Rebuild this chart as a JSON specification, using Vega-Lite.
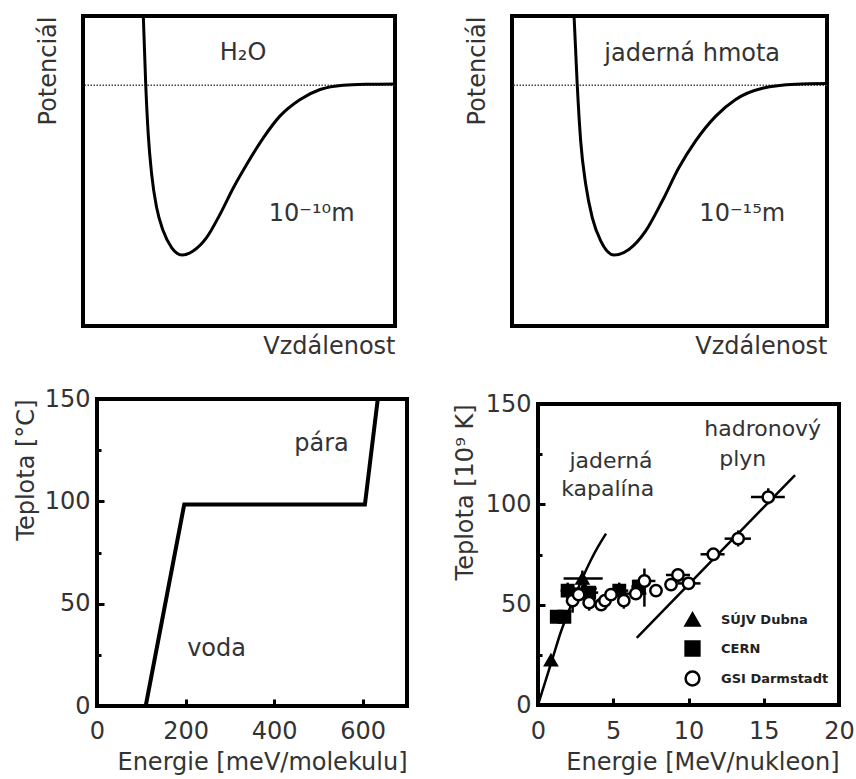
{
  "$schema": "https://vega.github.io/schema/vega-lite/v6.json",
  "background": "white",
  "padding": {"left": 12, "top": 13, "right": 0, "bottom": 0},
  "spacing": 25,
  "resolve": {"scale": {"shape": "independent", "fill": "independent", "stroke": "independent"}, "legend": {"shape": "independent", "fill": "independent", "stroke": "independent"}},
  "config": {
    "view": {"stroke": "black", "strokeWidth": 4},
    "font": "DejaVu Sans",
    "axis": {"domain": false, "grid": false, "minExtent": 0, "labelFont": "DejaVu Sans", "labelFontSize": 24, "labelColor": "#333", "titleFont": "DejaVu Sans", "titleFontSize": 24, "titleFontWeight": "normal", "titleColor": "#333", "titleAnchor": "end", "tickColor": "black", "tickWidth": 3, "labelFlush": false},
    "text": {"font": "DejaVu Sans", "fontSize": 24, "color": "#333"}
  },
  "vconcat": [
    {
      "spacing": 64,
      "hconcat": [
        {
          "width": 312, "height": 310,
          "layer": [
            {
              "data": {"values": [{"y": 77.7}]},
              "mark": {"type": "rule", "strokeDash": [1.5, 1.5], "strokeWidth": 1.5, "color": "#444"},
              "encoding": {"y": {"field": "y", "type": "quantitative", "title": "Potenciál"}}
            },
            {
              "data": {"values": [
                {"x": 19.0, "y": 108}, {"x": 19.33, "y": 100}, {"x": 20.1, "y": 78}, {"x": 20.9, "y": 62}, {"x": 22.0, "y": 49},
                {"x": 23.6, "y": 38.2}, {"x": 25.7, "y": 30.7}, {"x": 28.4, "y": 25.3}, {"x": 31.8, "y": 22.9}, {"x": 35.3, "y": 24.2},
                {"x": 39.6, "y": 28.5}, {"x": 43.9, "y": 36.0}, {"x": 48.2, "y": 44.6}, {"x": 52.5, "y": 52.2}, {"x": 57.8, "y": 60.7},
                {"x": 63.1, "y": 67.7}, {"x": 69.6, "y": 73.1}, {"x": 76.0, "y": 76.3}, {"x": 83.4, "y": 77.7}, {"x": 90.9, "y": 78.0},
                {"x": 100, "y": 78.1}
              ]},
              "mark": {"type": "line", "clip": true, "strokeWidth": 3, "color": "black", "interpolate": "monotone"},
              "encoding": {
                "x": {"field": "x", "type": "quantitative", "scale": {"domain": [0, 100], "nice": false, "zero": false},
                      "axis": {"title": "Vzdálenost", "ticks": false, "labels": false, "titlePadding": 8}},
                "y": {"field": "y", "type": "quantitative", "scale": {"domain": [0, 100], "nice": false},
                      "axis": {"title": "Potenciál", "labels": false, "ticks": false, "titlePadding": 23}}
              }
            },
            {
              "data": {"values": [{"x": 51.3, "y": 88.1, "label": "H₂O"}, {"x": 73.3, "y": 36.0, "label": "10⁻¹⁰m"}]},
              "mark": {"type": "text", "fontSize": 24},
              "encoding": {
                "x": {"field": "x", "type": "quantitative", "title": "Vzdálenost"},
                "y": {"field": "y", "type": "quantitative", "title": "Potenciál"},
                "text": {"field": "label"}
              }
            }
          ]
        },
        {
          "width": 315, "height": 310,
          "layer": [
            {
              "data": {"values": [{"y": 77.7}]},
              "mark": {"type": "rule", "strokeDash": [1.5, 1.5], "strokeWidth": 1.5, "color": "#444"},
              "encoding": {"y": {"field": "y", "type": "quantitative", "title": "Potenciál"}}
            },
            {
              "data": {"values": [
                {"x": 19.4, "y": 108}, {"x": 19.7, "y": 100}, {"x": 20.7, "y": 78}, {"x": 21.8, "y": 59.7}, {"x": 23.4, "y": 45.7},
                {"x": 25.5, "y": 34.9}, {"x": 28.2, "y": 27.4}, {"x": 32.4, "y": 22.9}, {"x": 37.1, "y": 24.7}, {"x": 42.4, "y": 30.6},
                {"x": 47.7, "y": 40.3}, {"x": 53.0, "y": 51.1}, {"x": 58.3, "y": 59.7}, {"x": 64.7, "y": 67.7}, {"x": 71.0, "y": 73.1},
                {"x": 79.5, "y": 76.7}, {"x": 90.1, "y": 78.0}, {"x": 100, "y": 78.2}
              ]},
              "mark": {"type": "line", "clip": true, "strokeWidth": 3, "color": "black", "interpolate": "monotone"},
              "encoding": {
                "x": {"field": "x", "type": "quantitative", "scale": {"domain": [0, 100], "nice": false, "zero": false},
                      "axis": {"title": "Vzdálenost", "ticks": false, "labels": false, "titlePadding": 8}},
                "y": {"field": "y", "type": "quantitative", "scale": {"domain": [0, 100], "nice": false},
                      "axis": {"title": "Potenciál", "labels": false, "ticks": false, "titlePadding": 23}}
              }
            },
            {
              "data": {"values": [{"x": 57.2, "y": 87.6, "label": "jaderná hmota"}, {"x": 73.1, "y": 36.0, "label": "10⁻¹⁵m"}]},
              "mark": {"type": "text", "fontSize": 24},
              "encoding": {
                "x": {"field": "x", "type": "quantitative", "title": "Vzdálenost"},
                "y": {"field": "y", "type": "quantitative", "title": "Potenciál"},
                "text": {"field": "label"}
              }
            }
          ]
        }
      ]
    },
    {
      "spacing": -72,
      "resolve": {"scale": {"shape": "independent", "fill": "independent", "stroke": "independent"}, "legend": {"shape": "independent", "fill": "independent", "stroke": "independent"}},
      "hconcat": [
        {
          "width": 1, "height": 1,
          "view": {"stroke": null},
          "data": {"values": []},
          "mark": "point",
          "encoding": {}
        },
        {
          "spacing": 42,
          "resolve": {"scale": {"shape": "independent", "fill": "independent", "stroke": "independent"}, "legend": {"shape": "independent", "fill": "independent", "stroke": "independent"}},
          "hconcat": [
            {
              "width": 310, "height": 307,
              "layer": [
                {
                  "data": {"values": [{"E": 110, "T": 0}, {"E": 197, "T": 98.5}, {"E": 605, "T": 98.5}, {"E": 634, "T": 150}]},
                  "mark": {"type": "line", "strokeWidth": 4, "color": "black", "clip": true},
                  "encoding": {
                    "x": {"field": "E", "type": "quantitative", "scale": {"domain": [0, 700], "nice": false},
                          "axis": {"title": "Energie [meV/molekulu]", "values": [0, 200, 400, 600], "tickSize": -7, "labelPadding": 20, "titlePadding": 7}},
                    "y": {"field": "T", "type": "quantitative", "scale": {"domain": [0, 150], "nice": false},
                          "axis": {"title": "Teplota [°C]", "values": [0, 25, 50, 75, 100, 125, 150],
                                   "labelExpr": "datum.value % 50 === 0 ? datum.label : ''",
                                   "tickSize": {"condition": {"test": "datum.value % 50 === 0", "value": -7}, "value": -4},
                                   "labelPadding": 14, "titlePadding": 6}}
                  }
                },
                {
                  "data": {"values": [{"E": 270, "T": 27.9, "label": "voda"}, {"E": 507, "T": 127.9, "label": "pára"}]},
                  "mark": {"type": "text", "fontSize": 24},
                  "encoding": {
                    "x": {"field": "E", "type": "quantitative", "title": "Energie [meV/molekulu]"},
                    "y": {"field": "T", "type": "quantitative", "title": "Teplota [°C]"},
                    "text": {"field": "label"}
                  }
                }
              ]
            },
            {
              "spacing": -10,
              "resolve": {"scale": {"shape": "independent", "fill": "independent", "stroke": "independent"}, "legend": {"shape": "independent", "fill": "independent", "stroke": "independent"}},
              "vconcat": [
                {
                  "width": 1, "height": 1,
                  "view": {"stroke": null},
                  "data": {"values": []},
                  "mark": "point",
                  "encoding": {}
                },
                {
                  "width": 301, "height": 301,
                  "layer": [
                    {
                      "data": {"values": [
                        {"E": 0, "T": 0}, {"E": 0.5, "T": 12}, {"E": 1.0, "T": 24}, {"E": 1.5, "T": 36}, {"E": 2.0, "T": 46},
                        {"E": 2.5, "T": 55}, {"E": 3.0, "T": 64}, {"E": 3.5, "T": 72}, {"E": 4.0, "T": 79}, {"E": 4.52, "T": 85.4}
                      ]},
                      "mark": {"type": "line", "strokeWidth": 2.5, "color": "black", "interpolate": "monotone"},
                      "encoding": {
                        "x": {"field": "E", "type": "quantitative", "scale": {"domain": [0, 20], "nice": false},
                              "axis": {"title": "Energie [MeV/nukleon]", "values": [0, 2.5, 5, 7.5, 10, 12.5, 15, 17.5, 20],
                                       "labelExpr": "datum.value % 5 === 0 ? datum.label : ''",
                                       "tickSize": {"condition": {"test": "datum.value % 5 === 0", "value": -7}, "value": -4},
                                       "labelPadding": 21, "titlePadding": 7}},
                        "y": {"field": "T", "type": "quantitative", "scale": {"domain": [0, 150], "nice": false},
                              "axis": {"title": "Teplota [10⁹ K]", "values": [0, 25, 50, 75, 100, 125, 150],
                                       "labelExpr": "datum.value % 50 === 0 ? datum.label : ''",
                                       "tickSize": {"condition": {"test": "datum.value % 50 === 0", "value": -7}, "value": -4},
                                       "labelPadding": 14, "titlePadding": 8}}
                      }
                    },
                    {
                      "data": {"values": [{"E": 6.56, "T": 33.5}, {"E": 17.08, "T": 114.6}]},
                      "mark": {"type": "line", "strokeWidth": 2.5, "color": "black"},
                      "encoding": {
                        "x": {"field": "E", "type": "quantitative", "title": "Energie [MeV/nukleon]"},
                        "y": {"field": "T", "type": "quantitative", "title": "Teplota [10⁹ K]"}
                      }
                    },
                    {
                      "data": {"name": "pts", "values": [
                        {"src": "SÚJV Dubna", "E": 0.86, "T": 22.3},
                        {"src": "CERN", "E": 1.25, "T": 44},
                        {"src": "CERN", "E": 1.75, "T": 44},
                        {"src": "CERN", "E": 1.97, "T": 57, "E1": 1.5, "E2": 2.5, "T1": 53, "T2": 61},
                        {"src": "SÚJV Dubna", "E": 2.95, "T": 63, "E1": 1.7, "E2": 4.3, "T1": 57, "T2": 67},
                        {"src": "SÚJV Dubna", "E": 3.1, "T": 58, "E1": 2.3, "E2": 3.9, "T1": 52, "T2": 64},
                        {"src": "CERN", "E": 3.4, "T": 56, "E1": 2.8, "E2": 4.0},
                        {"src": "CERN", "E": 5.4, "T": 57, "E1": 4.8, "E2": 6.0, "T1": 53, "T2": 61},
                        {"src": "CERN", "E": 6.7, "T": 59, "E1": 6.2, "E2": 7.2},
                        {"src": "GSI Darmstadt", "E": 2.3, "T": 52, "T1": 46, "T2": 57},
                        {"src": "GSI Darmstadt", "E": 2.7, "T": 55},
                        {"src": "GSI Darmstadt", "E": 3.4, "T": 51, "T1": 47, "T2": 56},
                        {"src": "GSI Darmstadt", "E": 4.2, "T": 50},
                        {"src": "GSI Darmstadt", "E": 4.45, "T": 52},
                        {"src": "GSI Darmstadt", "E": 4.85, "T": 55},
                        {"src": "GSI Darmstadt", "E": 5.7, "T": 52, "T1": 48, "T2": 56},
                        {"src": "GSI Darmstadt", "E": 6.5, "T": 55.5, "E1": 5.8, "E2": 7.2},
                        {"src": "GSI Darmstadt", "E": 7.07, "T": 61.8, "E1": 6.3, "E2": 7.8, "T1": 49, "T2": 68},
                        {"src": "GSI Darmstadt", "E": 7.84, "T": 57},
                        {"src": "GSI Darmstadt", "E": 8.84, "T": 60},
                        {"src": "GSI Darmstadt", "E": 9.3, "T": 64.8, "E1": 8.5, "E2": 10.1, "T1": 61, "T2": 68},
                        {"src": "GSI Darmstadt", "E": 10.0, "T": 60.6, "E1": 9.3, "E2": 10.8},
                        {"src": "GSI Darmstadt", "E": 11.65, "T": 75.1, "E1": 10.8, "E2": 12.4},
                        {"src": "GSI Darmstadt", "E": 13.3, "T": 82.9, "E1": 12.4, "E2": 14.15, "T1": 79, "T2": 87},
                        {"src": "GSI Darmstadt", "E": 15.3, "T": 103.6, "E1": 14.15, "E2": 16.4, "T1": 100, "T2": 108}
                      ]},
                      "layer": [
                        {
                          "transform": [{"filter": "datum.E1 != null"}],
                          "mark": {"type": "rule", "strokeWidth": 2.5, "color": "black"},
                          "encoding": {
                            "x": {"field": "E1", "type": "quantitative", "title": "Energie [MeV/nukleon]"},
                            "x2": {"field": "E2"},
                            "y": {"field": "T", "type": "quantitative", "title": "Teplota [10⁹ K]"}
                          }
                        },
                        {
                          "transform": [{"filter": "datum.T1 != null"}],
                          "mark": {"type": "rule", "strokeWidth": 2.5, "color": "black"},
                          "encoding": {
                            "x": {"field": "E", "type": "quantitative", "title": "Energie [MeV/nukleon]"},
                            "y": {"field": "T1", "type": "quantitative", "title": "Teplota [10⁹ K]"},
                            "y2": {"field": "T2"}
                          }
                        },
                        {
                          "mark": {"type": "point", "filled": true, "strokeWidth": 2.5, "size": 130, "opacity": 1},
                          "encoding": {
                            "x": {"field": "E", "type": "quantitative", "title": "Energie [MeV/nukleon]"},
                            "y": {"field": "T", "type": "quantitative", "title": "Teplota [10⁹ K]"},
                            "shape": {"field": "src", "type": "nominal",
                                      "scale": {"domain": ["SÚJV Dubna", "CERN", "GSI Darmstadt"], "range": ["triangle-up", "square", "circle"]},
                                      "legend": {"title": null, "orient": "none", "legendX": 146, "legendY": 207, "labelFontSize": 13, "labelFontWeight": "bold", "labelColor": "#222", "labelFont": "DejaVu Sans", "symbolSize": 190, "symbolStrokeWidth": 2.5, "rowPadding": 5, "labelOffset": 20}},
                            "fill": {"field": "src", "type": "nominal",
                                     "scale": {"domain": ["SÚJV Dubna", "CERN", "GSI Darmstadt"], "range": ["black", "black", "white"]},
                                     "legend": {"title": null, "orient": "none", "legendX": 146, "legendY": 207, "labelFontSize": 13, "labelFontWeight": "bold", "labelColor": "#222", "labelFont": "DejaVu Sans", "symbolSize": 190, "symbolStrokeWidth": 2.5, "rowPadding": 5, "labelOffset": 20}},
                            "stroke": {"field": "src", "type": "nominal",
                                       "scale": {"domain": ["SÚJV Dubna", "CERN", "GSI Darmstadt"], "range": ["black", "black", "black"]},
                                       "legend": {"title": null, "orient": "none", "legendX": 146, "legendY": 207, "labelFontSize": 13, "labelFontWeight": "bold", "labelColor": "#222", "labelFont": "DejaVu Sans", "symbolSize": 190, "symbolStrokeWidth": 2.5, "rowPadding": 5, "labelOffset": 20}}
                          }
                        }
                      ]
                    },
                    {
                      "data": {"values": [
                        {"E": 4.85, "T": 121.6, "label": "jaderná"}, {"E": 4.63, "T": 107.5, "label": "kapalína"},
                        {"E": 14.93, "T": 137.4, "label": "hadronový"}, {"E": 13.6, "T": 122.4, "label": "plyn"}
                      ]},
                      "mark": {"type": "text", "fontSize": 22},
                      "encoding": {
                        "x": {"field": "E", "type": "quantitative", "title": "Energie [MeV/nukleon]"},
                        "y": {"field": "T", "type": "quantitative", "title": "Teplota [10⁹ K]"},
                        "text": {"field": "label"}
                      }
                    }
                  ]
                }
              ]
            }
          ]
        }
      ]
    }
  ]
}
